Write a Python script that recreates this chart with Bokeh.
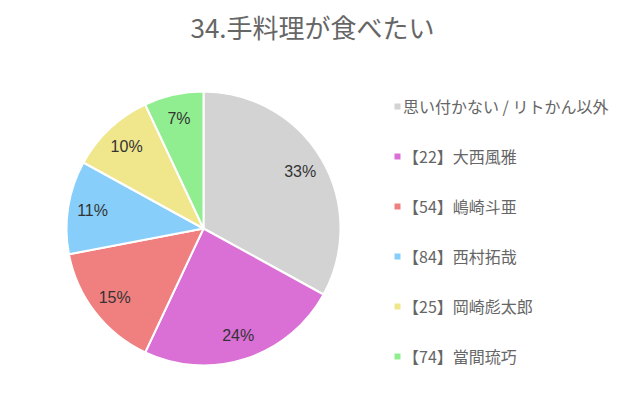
import math
from bokeh.plotting import figure
from bokeh.models import ColumnDataSource, Legend, LegendItem, Label
from bokeh.embed import file_html
from bokeh.resources import INLINE

title_text = "34.手料理が食べたい"
categories = ["思い付かない / リトかん以外", "【22】大西風雅", "【54】嶋崎斗亜",
              "【84】西村拓哉", "【25】岡崎彪太郎", "【74】當間琉巧"]
values = [33, 24, 15, 11, 10, 7]
colors = ["#d3d3d3", "#da70d6", "#f08080", "#87cefa", "#f0e68c", "#90ee90"]

W, H = 624, 388
cx, cy, R = 203, 160, 137

total = sum(values)
starts, ends, lx, ly, labels = [], [], [], [], []
cum = 0.0
for v in values:
    a0 = math.pi / 2 - cum / total * 2 * math.pi
    cum += v
    a1 = math.pi / 2 - cum / total * 2 * math.pi
    starts.append(a0)
    ends.append(a1)
    mid = (a0 + a1) / 2
    lx.append(cx + 0.82 * R * math.cos(mid))
    ly.append(cy + 0.82 * R * math.sin(mid))
    labels.append(f"{round(v / total * 100)}%")

src = ColumnDataSource(dict(cat=categories, val=values, color=colors,
                            start=starts, end=ends, lx=lx, ly=ly, lab=labels))

p = figure(width=W, height=H, x_range=(0, W), y_range=(0, H),
           output_backend="svg", toolbar_location=None, min_border=0,
           outline_line_color=None)
p.axis.visible = False
p.grid.visible = False

r = p.wedge(x=cx, y=cy, radius=R, start_angle="start", end_angle="end",
            direction="clock", fill_color="color", line_color="white",
            line_width=2, source=src)

p.text(x="lx", y="ly", text="lab", source=src, text_align="center",
       text_baseline="middle", text_font_size="16px", text_color="#333333",
       text_font={"value": "Liberation Sans"})

items = [LegendItem(label=c, renderers=[r], index=i) for i, c in enumerate(categories)]
legend = Legend(items=items, location=(392, 20), padding=0, margin=0,
                spacing=26, label_height=24, glyph_width=10, glyph_height=10,
                label_standoff=1, border_line_color=None, background_fill_alpha=0,
                label_text_font_size="16px", label_text_color="#666666",
                label_text_font="Noto Sans CJK JP")
p.add_layout(legend, "center")

p.add_layout(Label(x=W / 2, y=H - 26, x_units="screen", y_units="screen",
                   text=title_text, text_align="center", text_baseline="middle",
                   text_font_size="26px", text_color="#666666",
                   text_font="Noto Sans CJK JP"))

open("out.html", "w").write(file_html(p, INLINE))
